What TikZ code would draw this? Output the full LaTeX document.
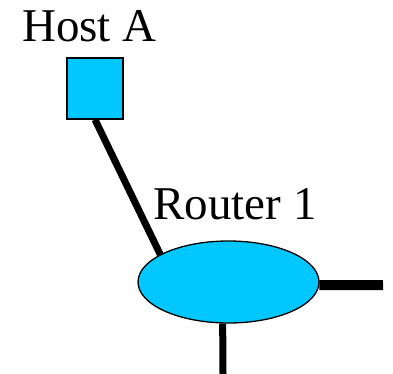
\documentclass[tikz,border=0pt]{standalone}
\usepackage{fontspec}
\setmainfont{Liberation Serif}
\usetikzlibrary{shapes.geometric}
\pgfdeclarelayer{edgelayer}
\pgfdeclarelayer{nodelayer}
\pgfsetlayers{edgelayer,nodelayer,main}
\definecolor{netblue}{RGB}{0,200,255}
\tikzset{font=\fontsize{47}{56}\selectfont}
\tikzstyle{none}=[inner sep=0pt]
\tikzstyle{label}=[inner sep=0pt,anchor=base]
\tikzstyle{host}=[rectangle,fill=netblue,draw=black,line width=1.3pt,minimum width=56pt,minimum height=61pt,inner sep=0pt]
\tikzstyle{router}=[ellipse,fill=netblue,draw=black,line width=1.3pt,minimum width=181pt,minimum height=82pt,inner sep=0pt]
\tikzstyle{link}=[line width=7pt]

\begin{document}
\begin{tikzpicture}[x=1pt,y=1pt]
	\useasboundingbox (0,0) rectangle (393,-374);
	\begin{pgfonlayer}{nodelayer}
		\node [style=label] (0) at (89.5, -41.7) {Host A};
		\node [style=host] (1) at (95, -88.5) {};
		\node [style=label] (2) at (235, -219) {Router 1};
		\node [style=router] (3) at (228.5, -282) {};
		\coordinate (4) at (383, -285);
		\coordinate (5) at (223, -374);
	\end{pgfonlayer}
	\begin{pgfonlayer}{edgelayer}
		\draw [style=link] (1.south) to (3.158);
		\draw [style=link, line width=10pt] (3.-2) to (4);
		\draw [style=link] (3.-98) to (5);
	\end{pgfonlayer}
\end{tikzpicture}
\end{document}
